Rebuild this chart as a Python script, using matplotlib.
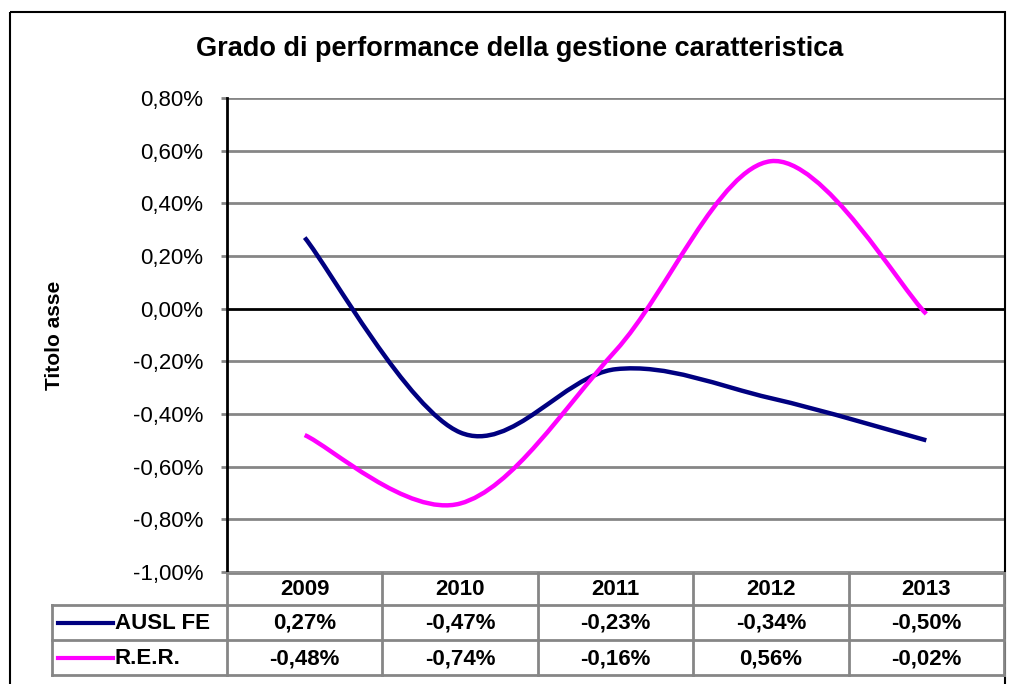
import matplotlib.pyplot as plt
from matplotlib.path import Path
from matplotlib.patches import PathPatch, Rectangle
from matplotlib.lines import Line2D

years = ["2009", "2010", "2011", "2012", "2013"]
ausl_fe = [0.27, -0.47, -0.23, -0.34, -0.50]
rer = [-0.48, -0.74, -0.16, 0.56, -0.02]
series_names = ["AUSL FE", "R.E.R."]
series_colors = ["#000080", "#FF00FF"]
y_ticks = [0.8, 0.6, 0.4, 0.2, 0.0, -0.2, -0.4, -0.6, -0.8, -1.0]

plt.rcParams['font.family'] = ['Liberation Sans', 'DejaVu Sans']
W, H = 1019, 684
fig = plt.figure(figsize=(W / 100, H / 100), dpi=100)

def fx(px):
    return px / W

def fy(py):
    return 1 - py / H

# plot area in pixels
left, right, top, bottom = 227, 1004, 98, 572
ax = fig.add_axes([fx(left), fy(bottom), fx(right - left), fy(top) - fy(bottom)])


def smooth_path(xs, ys):
    # Excel-like smoothed line: cubic bezier with catmull-rom tangents
    pts = list(zip(xs, ys))
    n = len(pts)
    verts = [pts[0]]
    codes = [Path.MOVETO]
    for i in range(n - 1):
        p0 = pts[i - 1] if i > 0 else pts[i]
        p1 = pts[i]
        p2 = pts[i + 1]
        p3 = pts[i + 2] if i + 2 < n else pts[i + 1]
        c1 = (p1[0] + (p2[0] - p0[0]) / 6, p1[1] + (p2[1] - p0[1]) / 6)
        c2 = (p2[0] - (p3[0] - p1[0]) / 6, p2[1] - (p3[1] - p1[1]) / 6)
        verts += [c1, c2, p2]
        codes += [Path.CURVE4] * 3
    return Path(verts, codes)


xs = list(range(len(years)))
for vals, col in zip([ausl_fe, rer], series_colors):
    patch = PathPatch(smooth_path(xs, vals), facecolor='none', edgecolor=col,
                      lw=3.2, zorder=3, capstyle='butt')
    ax.add_patch(patch)

ax.set_xlim(-0.5, len(years) - 0.5)
ax.set_ylim(-1.0, 0.8)
ax.set_yticks(y_ticks)
ax.set_yticklabels([f"{v:.2f}%".replace('.', ',') for v in y_ticks], fontsize=16)
ax.set_xticks([])
for v in y_ticks:
    if v == 0:
        ax.axhline(v, color='black', lw=2, zorder=2)
    else:
        ax.axhline(v, color='#868686', lw=2, zorder=1)
ax.tick_params(axis='y', length=4, width=2, color='#868686', pad=13)
for s in ['top', 'right', 'bottom']:
    ax.spines[s].set_visible(False)
ax.spines['left'].set_linewidth(2)
ax.spines['left'].set_color('black')

fig.text(fx(520), fy(49), "Grado di performance della gestione caratteristica",
         ha='center', va='center', fontsize=19.5, fontweight='bold')
fig.text(fx(54), fy(335), "Titolo asse", rotation=90, ha='center', va='center',
         fontsize=15, fontweight='bold')

# data table below the plot
tab = fig.add_axes([0, 0, 1, 1], facecolor='none')
tab.set_xlim(0, W)
tab.set_ylim(H, 0)
tab.axis('off')
grid_c = '#868686'
col_w = (right - left) / len(years)
row_tops = [572, 605, 640, 675]
tab.plot([52, right], [605, 605], color=grid_c, lw=2)
tab.plot([52, right], [640, 640], color=grid_c, lw=2)
tab.plot([52, right], [675, 675], color=grid_c, lw=2)
tab.plot([left, right], [573, 573], color=grid_c, lw=2)
tab.plot([52, 52], [605, 675], color=grid_c, lw=2)
for i in range(len(years) + 1):
    xv = left + i * col_w
    tab.plot([xv, xv], [573, 675], color=grid_c, lw=2)
for i, yr in enumerate(years):
    tab.text(left + (i + 0.5) * col_w, (row_tops[0] + row_tops[1]) / 2 + 1, yr,
             ha='center', va='center', fontsize=16, fontweight='bold')
for r, (name, vals, col) in enumerate(zip(series_names, [ausl_fe, rer], series_colors)):
    yc = (row_tops[r + 1] + row_tops[r + 2]) / 2 + 1
    tab.add_line(Line2D([58, 113], [yc - 1, yc - 1], color=col, lw=3))
    tab.text(115, yc, name, ha='left', va='center', fontsize=16, fontweight='bold')
    for i, v in enumerate(vals):
        tab.text(left + (i + 0.5) * col_w, yc, f"{v:.2f}%".replace('.', ','),
                 ha='center', va='center', fontsize=16, fontweight='bold')

# outer chart border
tab.add_patch(Rectangle((10, 12), 995, 700, fill=False, edgecolor='black', lw=1.5))

fig.savefig("out.png", dpi=100)
